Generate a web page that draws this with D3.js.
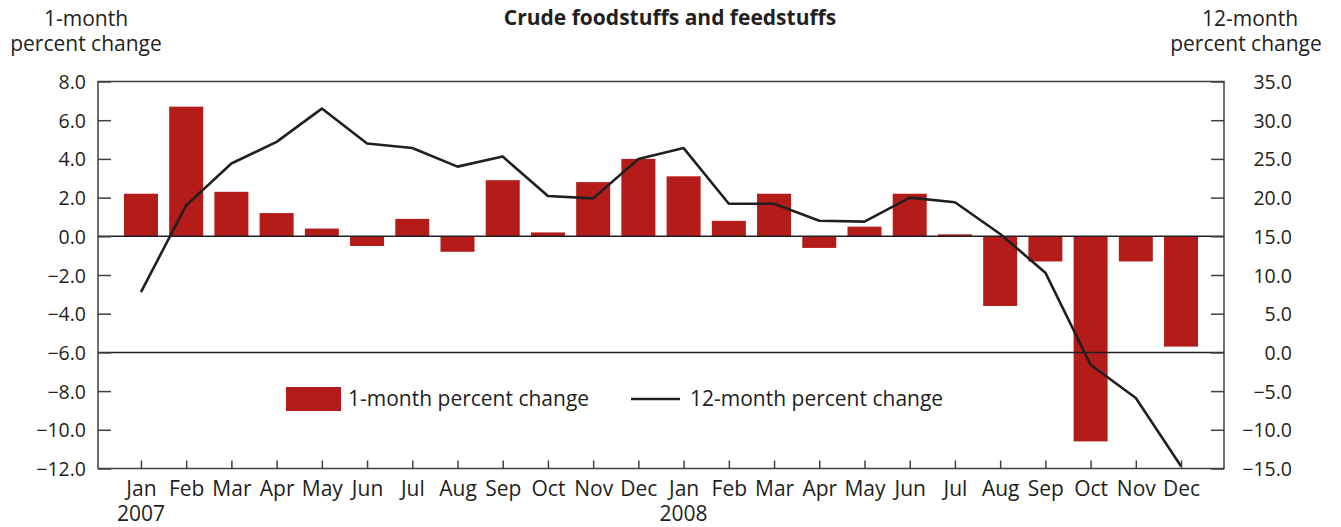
<!DOCTYPE html>
<html>
<head>
<meta charset="utf-8">
<script src="https://cdn.jsdelivr.net/npm/d3@7"></script>
<style>
body { margin: 0; background: #fff; }
svg text { font-family: "Open Sans", "Noto Sans", sans-serif; fill: #231f20; }
.axis path.domain { display: none; }
.axis line { stroke: #404040; stroke-width: 1.5; }
</style>
</head>
<body>
<svg id="chart"></svg>
<script>
var months = ["Jan","Feb","Mar","Apr","May","Jun","Jul","Aug","Sep","Oct","Nov","Dec",
              "Jan","Feb","Mar","Apr","May","Jun","Jul","Aug","Sep","Oct","Nov","Dec"];
var years = ["2007","","","","","","","","","","","",
             "2008","","","","","","","","","","",""];
var oneMonth = [2.2, 6.7, 2.3, 1.2, 0.4, -0.5, 0.9, -0.8, 2.9, 0.2, 2.8, 4.0,
                3.1, 0.8, 2.2, -0.6, 0.5, 2.2, 0.1, -3.6, -1.3, -10.6, -1.3, -5.7];
var twelveMonth = [7.8, 19.0, 24.4, 27.2, 31.5, 27.0, 26.4, 24.0, 25.3, 20.2, 19.9, 25.0,
                   26.4, 19.2, 19.2, 17.0, 16.9, 20.0, 19.4, 15.3, 10.3, -1.6, -5.9, -14.7];
var leftTicks = [8, 6, 4, 2, 0, -2, -4, -6, -8, -10, -12];
var rightTicks = [35, 30, 25, 20, 15, 10, 5, 0, -5, -10, -15];

var width = 1341, height = 527;
var plotL = 98, plotR = 1224, plotT = 81.5, plotB = 468.5;
var barColor = "#b31c19", lineColor = "#231f20";
var barWidth = 34;
var numSize = "19.5px", textSize = "21px";

var svg = d3.select("#chart").attr("width", width).attr("height", height);

var idx = d3.range(months.length);
var x = d3.scalePoint().domain(idx).range([plotL, plotR]).padding(0.95);
var yL = d3.scaleLinear().domain([-12, 8]).range([plotB, plotT]);
var yR = d3.scaleLinear().domain([-15, 35]).range([plotB, plotT]);

function fmt(d) {
	var s = d3.format(".1f")(Math.abs(d));
	return d < 0 ? "\u2212" + s : s;
}

// bars
svg.append("g").selectAll("rect").data(oneMonth).enter()
.append("rect")
.attr("x", function(d, i) { return x(i) - barWidth/2; })
.attr("y", function(d) { return yL(Math.max(0, d)); })
.attr("width", barWidth)
.attr("height", function(d) { return Math.abs(yL(d) - yL(0)); })
.attr("fill", barColor);

// zero lines for both scales
svg.append("line")
.attr("x1", plotL).attr("x2", plotR)
.attr("y1", yL(0)).attr("y2", yL(0))
.attr("stroke", lineColor).attr("stroke-width", 1.5);
svg.append("line")
.attr("x1", plotL).attr("x2", plotR)
.attr("y1", yR(0)).attr("y2", yR(0))
.attr("stroke", lineColor).attr("stroke-width", 1.5);

// 12-month line
var line = d3.line()
.x(function(d, i) { return x(i); })
.y(function(d) { return yR(d); });
svg.append("path")
.datum(twelveMonth)
.attr("d", line)
.attr("fill", "none")
.attr("stroke", lineColor)
.attr("stroke-width", 2.6)
.attr("stroke-linejoin", "round");

// frame
svg.append("rect")
.attr("x", plotL).attr("y", plotT)
.attr("width", plotR - plotL).attr("height", plotB - plotT)
.attr("fill", "none").attr("stroke", "#404040").attr("stroke-width", 1.5);

// axes
var gL = svg.append("g").attr("class", "axis")
.attr("transform", "translate(" + plotL + ",0)")
.call(d3.axisLeft(yL).tickValues(leftTicks).tickSize(-13).tickPadding(12).tickFormat(fmt));
gL.selectAll("text").style("font-size", numSize).attr("dy", "0.36em");

var gR = svg.append("g").attr("class", "axis")
.attr("transform", "translate(" + plotR + ",0)")
.call(d3.axisRight(yR).tickValues(rightTicks).tickSize(-13).tickFormat(fmt));
gR.selectAll("text").style("font-size", numSize).attr("text-anchor", "end")
.attr("x", 68).attr("dy", "0.36em");

var gB = svg.append("g").attr("class", "axis")
.attr("transform", "translate(0," + plotB + ")")
.call(d3.axisBottom(x).tickSize(-8).tickFormat(function(i) { return months[i]; }));
gB.selectAll("text").style("font-size", textSize).attr("y", 27).attr("dy", 0);

svg.append("g").selectAll("text").data(years.filter(function(d) { return d; })).enter()
.append("text")
.attr("x", function(d) { return x(years.indexOf(d)); })
.attr("y", plotB + 52)
.attr("text-anchor", "middle")
.style("font-size", textSize)
.text(function(d) { return d; });

// titles
svg.append("text")
.attr("x", 670).attr("y", 25)
.attr("text-anchor", "middle")
.style("font-size", textSize).style("font-weight", "bold")
.text("Crude foodstuffs and feedstuffs");

var leftTitle = svg.append("text").attr("text-anchor", "middle").style("font-size", textSize);
leftTitle.append("tspan").attr("x", 86).attr("y", 26).text("1-month");
leftTitle.append("tspan").attr("x", 86).attr("y", 51).text("percent change");

var rightTitle = svg.append("text").attr("text-anchor", "middle").style("font-size", textSize);
rightTitle.append("tspan").attr("x", 1250).attr("y", 26).text("12-month");
rightTitle.append("tspan").attr("x", 1246).attr("y", 51).text("percent change");

// legend
var legend = svg.append("g");
legend.append("rect")
.attr("x", 286).attr("y", 387).attr("width", 55).attr("height", 24)
.attr("fill", barColor);
legend.append("text")
.attr("x", 348).attr("y", 406)
.style("font-size", textSize)
.text("1-month percent change");
legend.append("line")
.attr("x1", 631).attr("x2", 680).attr("y1", 399).attr("y2", 399)
.attr("stroke", lineColor).attr("stroke-width", 2.6);
legend.append("text")
.attr("x", 690).attr("y", 406)
.style("font-size", textSize)
.text("12-month percent change");
</script>
</body>
</html>
